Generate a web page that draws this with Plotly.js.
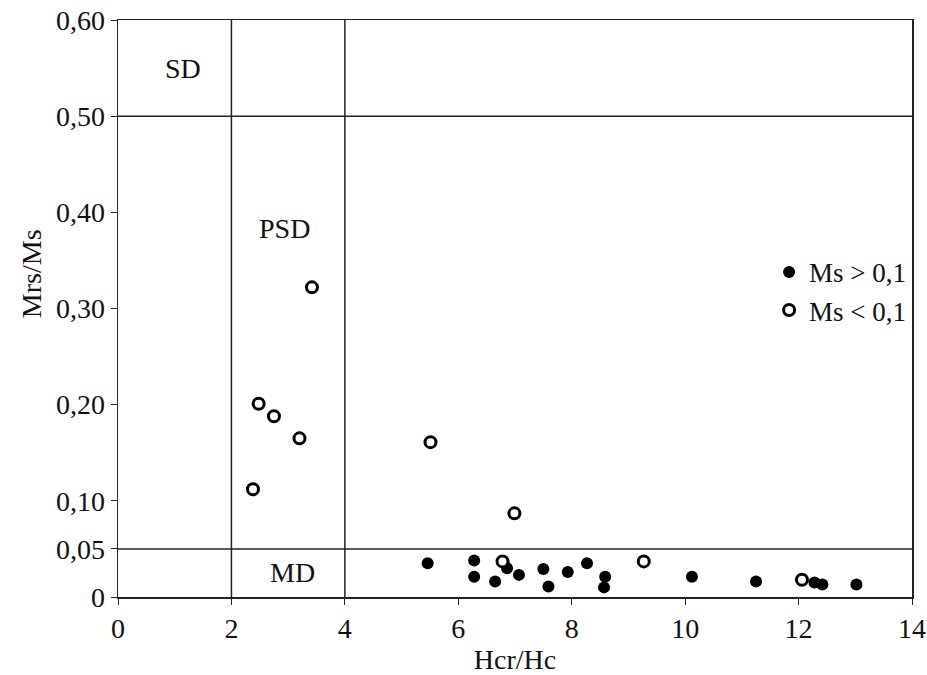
<!DOCTYPE html>
<html>
<head>
<meta charset="utf-8">
<script src="https://cdn.plot.ly/plotly-3.0.1.min.js"></script>
<style>html,body{margin:0;padding:0;background:#fff;}#chart{width:927px;height:675px;}</style>
</head>
<body>
<div id="chart"></div>
<script>
// Ms > 0,1 (filled circles)
const filledX = [5.46, 6.28, 6.28, 6.86, 6.65, 7.07, 7.50, 7.59, 7.93, 8.27, 8.59, 8.57, 10.12, 11.25, 12.28, 12.42, 13.02];
const filledY = [0.035, 0.038, 0.021, 0.030, 0.016, 0.023, 0.029, 0.011, 0.026, 0.035, 0.021, 0.010, 0.021, 0.016, 0.015, 0.013, 0.013];
// Ms < 0,1 (open circles)
const openX = [3.42, 2.48, 2.75, 3.20, 2.38, 5.51, 6.99, 6.78, 9.27, 12.06];
const openY = [0.322, 0.201, 0.188, 0.165, 0.112, 0.161, 0.087, 0.037, 0.037, 0.018];

const xTickVals = [0, 2, 4, 6, 8, 10, 12, 14];
const xTickText = ["0", "2", "4", "6", "8", "10", "12", "14"];
const yTickVals = [0, 0.05, 0.1, 0.2, 0.3, 0.4, 0.5, 0.6];
const yTickText = ["0", "0,05", "0,10", "0,20", "0,30", "0,40", "0,50", "0,60"];

const regionLabels = ["SD", "PSD", "MD"];
const regionX = [1.15, 2.94, 3.07];
const regionY = [0.55, 0.383, 0.025];
const vLines = [2, 4];
const hLines = [0.5, 0.05];

const font = "Liberation Serif, Times New Roman, serif";

const traces = [
  {
    x: filledX, y: filledY, type: "scatter", mode: "markers", name: "Ms > 0,1",
    marker: { symbol: "circle", size: 12, color: "#000", line: { width: 0 } }
  },
  {
    x: openX, y: openY, type: "scatter", mode: "markers", name: "Ms < 0,1",
    marker: { symbol: "circle", size: 11, color: "#fff", line: { width: 3, color: "#000" } }
  }
];

const shapes = [];
vLines.forEach(v => shapes.push({ type: "line", xref: "x", yref: "paper", x0: v, x1: v, y0: 0, y1: 1, line: { color: "#222", width: 1.5 } }));
hLines.forEach(h => shapes.push({ type: "line", xref: "paper", yref: "y", x0: 0, x1: 1, y0: h, y1: h, line: { color: "#222", width: 1.5 } }));

const annotations = regionLabels.map((t, i) => ({
  text: t, x: regionX[i], y: regionY[i], xref: "x", yref: "y", showarrow: false,
  font: { family: font, size: 28, color: "#111" }
}));
annotations.push({
  text: "Mrs/Ms", xref: "paper", yref: "paper", x: -0.108, y: 0.56,
  xanchor: "center", yanchor: "middle", textangle: -90, showarrow: false,
  font: { family: font, size: 28, color: "#111" }
});

const layout = {
  width: 927, height: 675,
  margin: { l: 118, r: 15, t: 20, b: 78 },
  paper_bgcolor: "#fff", plot_bgcolor: "#fff",
  font: { family: font, size: 28, color: "#111" },
  showlegend: true,
  legend: {
    x: 0.82, y: 0.605, xanchor: "left", yanchor: "top",
    bgcolor: "rgba(0,0,0,0)", font: { family: font, size: 27, color: "#111" },
    itemwidth: 30, tracegroupgap: 0
  },
  xaxis: {
    range: [0, 14], tickvals: xTickVals, ticktext: xTickText,
    showgrid: false, zeroline: false, showline: true, mirror: true,
    linecolor: "#222", linewidth: 1.5, ticks: "outside", ticklen: 6, tickcolor: "#222",
    ticklabeloverflow: "allow",
    tickfont: { family: font, size: 28, color: "#111" },
    title: { text: "Hcr/Hc", font: { family: font, size: 28, color: "#111" }, standoff: 16 }
  },
  yaxis: {
    range: [0, 0.6], tickvals: yTickVals, ticktext: yTickText,
    showgrid: false, zeroline: false, showline: true, mirror: true,
    linecolor: "#222", linewidth: 1.5, ticks: "outside", ticklen: 6, tickcolor: "#222",
    ticklabeloverflow: "allow",
    tickfont: { family: font, size: 28, color: "#111" }
  },
  shapes: shapes,
  annotations: annotations
};

Plotly.newPlot("chart", traces, layout, { displayModeBar: false, staticPlot: true });
</script>
</body>
</html>
